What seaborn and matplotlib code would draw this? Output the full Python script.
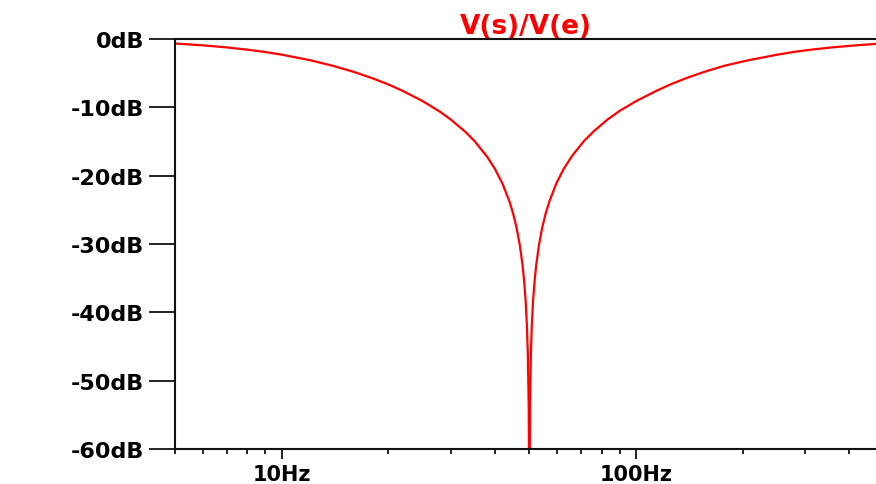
import matplotlib
matplotlib.use("Agg")
import matplotlib.pyplot as plt
import matplotlib.ticker as mticker
import seaborn as sns

# magnitude of V(s)/V(e)
freq_hz = [5, 6, 7, 8, 9, 10, 12, 14, 16, 18, 20, 22, 25, 28, 30, 33, 35, 38, 40,
           42, 44, 45, 46, 47, 47.8, 48.3, 48.8, 49.2, 49.5, 49.8, 50.0,
           50.2, 50.5, 50.8, 51.2, 51.8, 52.3, 53.2, 54.3, 55.6, 57, 59.5, 62.5,
           66, 71.4, 76, 83, 90, 100, 114, 125, 139, 156, 178, 208, 250, 278,
           312, 357, 417, 475]
gain_db = [-0.66, -0.93, -1.23, -1.56, -1.91, -2.29, -3.09, -3.94, -4.82, -5.73,
           -6.65, -7.61, -9.09, -10.66, -11.78, -13.59, -14.93, -17.23, -19.03,
           -21.18, -23.88, -25.56, -27.6, -30.19, -32.95, -35.24, -38.31, -41.87,
           -45.98, -53.96, -75.0,
           -54.0, -46.0, -41.9, -38.4, -35.1, -33.0, -30.2, -27.7, -25.5, -23.7,
           -21.2, -19.0, -17.1, -14.9, -13.5, -11.8, -10.5, -9.1, -7.6, -6.65,
           -5.7, -4.8, -3.9, -3.1, -2.3, -1.9, -1.56, -1.23, -0.93, -0.72]

y_ticks = [0, -10, -20, -30, -40, -50, -60]
y_labels = ["0dB", "-10dB", "-20dB", "-30dB", "-40dB", "-50dB", "-60dB"]
x_ticks = [10, 100]
x_labels = ["10Hz", "100Hz"]

sns.set_style("white")
plt.rcParams['font.family'] = ['DejaVu Sans']

fig = plt.figure(figsize=(8.76, 4.85), dpi=100)
ax = fig.add_axes([175 / 876, 1 - 450 / 485, 1 - 175 / 876, 410 / 485])

sns.lineplot(x=freq_hz, y=gain_db, ax=ax, color="#ff0000", linewidth=1.6,
             estimator=None, sort=False)

ax.set_xscale("log")
ax.set_xlim(5, 475.5)
ax.set_ylim(-60, 0)

ax.set_xticks(x_ticks)
ax.set_xticklabels(x_labels)
ax.xaxis.set_minor_locator(mticker.LogLocator(base=10, subs=range(2, 10)))
ax.xaxis.set_minor_formatter(mticker.NullFormatter())
ax.set_yticks(y_ticks)
ax.set_yticklabels(y_labels)

ax.tick_params(axis="x", which="major", direction="out", length=7.5, width=1.3,
               color="#111111", pad=3, labelsize=15, labelcolor="black",
               bottom=True)
ax.tick_params(axis="x", which="minor", direction="out", length=3.8, width=1.3,
               color="#111111", bottom=True)
ax.tick_params(axis="y", direction="out", length=19, width=1.3,
               color="#111111", pad=3, labelsize=16, labelcolor="black",
               left=True)
for lab in ax.get_xticklabels() + ax.get_yticklabels():
    lab.set_fontweight("bold")

ax.spines["right"].set_visible(False)
for side in ["left", "top", "bottom"]:
    ax.spines[side].set_color("#111111")
    ax.spines[side].set_linewidth(1.5)

ax.set_xlabel("")
ax.set_ylabel("")
ax.set_title("V(s)/V(e)", color="#ff0000", fontsize=19, fontweight="bold", pad=2)

fig.savefig("out.png", dpi=100)
plt.close(fig)
